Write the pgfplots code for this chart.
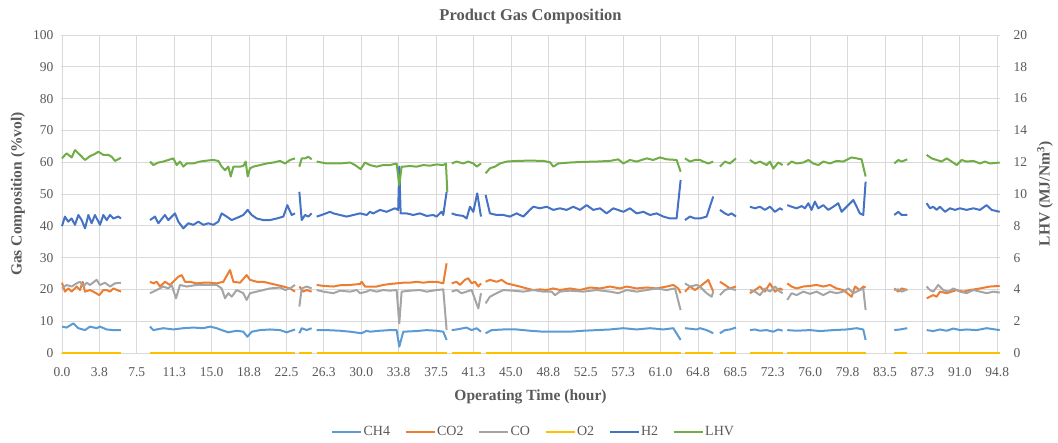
\documentclass[border=0pt]{standalone}
\usepackage{pgfplots}
\pgfplotsset{compat=1.18}
\usepackage{fontspec}
\setmainfont{Liberation Serif}
\definecolor{cCH}{HTML}{5B9BD5}
\definecolor{cCOt}{HTML}{ED7D31}
\definecolor{cCO}{HTML}{A5A5A5}
\definecolor{cOt}{HTML}{FFC000}
\definecolor{cH}{HTML}{4472C4}
\definecolor{cL}{HTML}{70AD47}
\definecolor{tgray}{HTML}{595959}
\definecolor{ggray}{HTML}{D9D9D9}
\newcommand{\labfont}{\bfseries\fontsize{15.5bp}{18bp}\selectfont}
\pgfplotsset{
  common/.style={
    at={(61bp,90bp)}, anchor=south west, scale only axis,
    width=939bp, height=318bp, xmin=-0.1, xmax=95.28,
    unbounded coords=jump, clip=false,
    axis line style={draw=none}, major tick length=0pt, minor tick length=0pt,
    /pgf/number format/assume math mode=true,
    tick label style={font=\fontsize{13.5bp}{16bp}\selectfont, text=tgray},
  },
}
\begin{document}
\begin{tikzpicture}
\path[use as bounding box] (0,0) rectangle (1058bp,443bp);
\begin{axis}[common,
  ymin=0, ymax=100, ytick={0,10,20,30,40,50,60,70,80,90,100},
  xtick={0,3.8,7.6,11.4,15.2,19,22.8,26.6,30.4,34.2,38,41.8,45.6,49.4,53.2,57,60.8,64.6,68.4,72.2,76,79.8,83.6,87.4,91.2,95},
  xticklabels={0.0,3.8,7.5,11.3,15.0,18.8,22.5,26.3,30.0,33.8,37.5,41.3,45.0,48.8,52.5,57.3,61.0,64.8,68.5,72.3,76.0,79.8,83.5,87.3,91.0,94.8},
  xmajorgrids, ymajorgrids,
  grid style={ggray, line width=0.8bp},
  xticklabel style={yshift=-11bp},
  yticklabel style={xshift=-4bp},
  xlabel={Operating Time (hour)},
  ylabel={Gas Composition (\%vol)},
  every axis x label/.style={at={(axis description cs:0.5,-0.138)}, anchor=center, font=\labfont, text=tgray},
  every axis y label/.style={at={(axis description cs:-0.0458,0.5)}, anchor=center, rotate=90, font=\labfont, text=tgray},
  title={Product Gas Composition},
  every axis title/.style={at={(axis description cs:0.5,1.057)}, anchor=center, font=\bfseries\fontsize{16.5bp}{19bp}\selectfont, text=tgray},
  legend style={at={(axis description cs:0.503,-0.248)}, anchor=center, draw=none, fill=none,
    font=\fontsize{14bp}{16bp}\selectfont, text=tgray, legend columns=6,
    nodes={inner sep=1.5bp},
    /tikz/every even column/.append style={column sep=13bp}},
  legend image code/.code={\draw[#1] (0bp,0bp) -- (29bp,0bp);},
  every axis plot/.append style={line width=2bp, line join=round},
]
% CH4
\addplot[cCH] table {
0 8.3
0.47 8.0
1.15 9.3
1.66 7.8
2.34 7.2
2.84 8.3
3.52 7.8
3.86 8.3
4.54 7.4
5.22 7.2
5.99 7.2
7 nan
8.94 8.3
9.28 7.2
10.29 7.8
11.31 7.4
12.33 7.8
13.34 8.0
14.36 7.8
15.04 8.3
15.71 7.8
16.22 7.2
16.90 6.5
17.74 7.0
18.42 6.7
18.83 5.1
19.27 6.7
20.12 7.2
21.13 7.4
22.15 7.2
22.82 6.5
23.67 7.4
23.9 nan
24.11 6.2
24.35 7.8
24.86 7.2
25.36 7.8
25.6 nan
25.87 7.2
26.89 7.2
28.24 7.0
29.26 6.7
30.44 6.2
30.95 7.0
31.28 6.7
32.30 7.0
33.31 7.2
33.99 7.2
34.26 2.0
34.67 6.7
36.02 6.9
37.04 7.2
38.05 7.0
38.73 6.7
39.07 4.1
39.35 nan
39.58 7.2
40.08 7.4
41.10 8.0
41.61 7.2
42.12 7.8
42.56 6.7
42.8 nan
43.03 6.2
43.64 7.2
44.83 7.4
46.18 7.4
47.53 7.0
48.89 6.7
50.24 6.7
51.60 6.7
52.95 7.0
54.31 7.2
55.66 7.4
57.02 7.8
58.37 7.4
59.73 7.8
61.08 7.4
62.10 7.8
62.84 4.1
63.05 nan
63.28 7.8
64.47 7.4
64.80 7.8
65.48 7.2
66.15 6.2
66.5 nan
66.83 6.2
67.34 7.2
67.85 7.4
68.46 8.0
69.2 nan
69.88 7.2
70.39 7.4
70.90 7.0
71.57 7.2
72.25 6.7
72.76 7.4
73.20 7.0
73.45 nan
73.67 7.2
74.62 7.0
75.98 7.2
76.99 6.9
78.35 7.2
79.70 7.4
80.72 7.8
81.39 7.4
81.63 4.1
83 nan
84.54 7.2
85.12 7.4
85.86 7.8
87 nan
87.83 7.2
88.50 6.9
89.18 7.4
89.86 7.0
90.54 7.7
91.21 7.2
91.89 7.4
92.91 7.2
93.92 7.8
95.25 7.2
};
\addlegendentry{CH4}
% CO2
\addplot[cCOt] table {
0 22.1
0.30 19.3
0.64 20.3
0.98 19.3
1.49 20.9
1.83 19.8
2.10 22.4
2.34 19.3
2.84 19.8
3.18 19.3
3.79 18.2
4.20 19.8
4.54 19.8
4.88 19.3
5.22 20.3
5.99 19.3
7 nan
8.94 22.4
9.28 21.9
9.62 22.4
9.96 20.9
10.46 22.4
10.97 21.4
11.82 24.0
12.16 24.5
12.50 22.4
13.00 22.4
13.68 21.9
14.36 22.1
15.04 22.1
15.71 21.9
16.39 22.4
17.07 26.1
17.41 22.4
18.08 22.1
18.76 24.5
19.10 23.0
19.78 22.4
20.45 22.4
21.13 21.9
21.81 21.4
22.49 20.9
23.16 20.3
23.67 19.3
23.9 nan
24.11 20.9
24.52 19.3
24.86 19.8
25.36 19.3
25.6 nan
25.87 21.4
26.55 21.1
27.57 20.9
28.24 21.3
29.26 21.4
30.27 21.7
30.44 22.4
30.78 20.9
31.28 20.9
31.96 20.9
32.63 21.4
33.31 21.7
33.99 21.9
34.67 22.1
35.34 22.1
36.02 22.4
36.70 22.1
37.38 22.4
38.05 22.4
38.73 21.9
39.07 28.2
39.35 nan
39.58 21.9
40.08 22.4
40.42 21.4
40.93 23.0
41.27 23.5
41.61 21.9
41.95 22.4
42.29 20.9
42.56 21.9
42.8 nan
43.03 22.4
43.47 23.0
44.15 22.4
44.66 23.0
45.16 21.9
45.84 21.4
46.52 20.9
47.20 20.3
47.87 19.8
48.55 20.0
49.23 19.8
49.91 20.3
50.58 19.8
51.60 20.3
52.61 19.8
53.63 20.6
54.65 20.3
55.66 20.9
56.68 20.3
57.36 20.9
58.37 20.3
59.39 20.6
60.40 20.3
61.42 20.9
62.10 21.4
62.60 20.3
62.84 18.8
63.05 nan
63.28 19.3
63.79 20.9
64.30 19.8
64.80 20.9
65.65 23.0
66.15 19.3
66.5 nan
66.83 22.4
67.34 21.4
67.85 20.3
68.46 20.9
69.2 nan
69.88 18.8
70.39 19.8
70.90 20.9
71.40 19.3
71.91 21.9
72.42 19.3
72.93 20.3
73.20 19.8
73.45 nan
73.67 21.9
74.11 20.9
74.62 20.3
75.30 20.9
75.98 21.1
76.65 21.4
77.33 20.9
78.01 21.4
78.68 20.3
79.36 19.8
80.21 17.7
80.55 20.9
81.05 19.8
81.39 20.9
81.63 20.6
83 nan
84.54 20.3
84.95 19.3
85.29 20.3
85.86 19.8
87 nan
87.83 17.2
88.50 18.2
88.84 17.7
89.18 19.3
89.86 18.8
90.37 19.3
90.88 19.8
91.55 19.3
92.23 19.8
93.25 20.3
94.26 20.9
95.25 21.1
};
\addlegendentry{CO2}
% CO
\addplot[cCO] table {
0 20.3
0.47 21.4
0.98 20.9
1.49 21.9
1.83 22.4
2.17 20.9
2.51 22.1
2.84 21.4
3.52 23.0
3.86 21.4
4.37 22.1
4.88 20.9
5.38 21.9
5.99 22.1
7 nan
8.94 18.8
9.62 19.8
10.29 20.9
10.80 20.3
11.14 21.4
11.58 17.2
11.99 21.4
12.67 20.9
13.68 21.4
14.70 21.4
15.71 21.4
16.22 20.3
16.56 17.2
16.90 18.8
17.24 17.7
17.74 19.8
18.42 18.8
18.76 16.7
19.10 18.8
19.78 19.3
20.45 19.8
21.13 20.3
22.15 20.6
22.66 19.8
23.16 20.3
23.67 21.4
23.9 nan
24.11 14.6
24.35 20.3
24.86 20.9
25.36 20.3
25.6 nan
25.87 19.8
26.55 19.3
27.57 18.8
28.24 19.6
29.26 19.3
29.94 19.8
30.27 18.8
30.95 19.3
31.28 19.8
31.96 19.3
32.63 19.8
33.31 19.6
33.99 19.8
34.26 9.3
34.50 19.3
35.34 19.6
36.36 19.8
37.04 19.3
38.05 19.8
38.73 20.0
39.07 7.2
39.35 nan
39.58 19.3
40.08 19.8
40.59 18.8
41.10 19.3
41.61 19.8
42.29 14.0
42.56 18.8
42.8 nan
43.03 15.6
43.47 17.7
44.15 18.8
44.83 19.8
45.84 19.6
46.86 19.3
47.87 19.8
48.89 19.3
49.74 19.3
50.07 18.2
50.58 19.3
51.60 19.6
52.95 19.3
54.31 19.8
55.66 19.3
56.51 18.8
57.36 19.8
58.37 19.3
59.39 19.8
60.40 20.3
61.42 19.8
62.27 20.3
62.84 13.5
63.05 nan
63.28 21.9
63.79 20.9
64.47 21.4
64.80 20.9
65.48 18.8
65.99 17.7
66.15 19.3
66.5 nan
66.83 18.2
67.34 19.8
67.85 20.3
68.46 19.8
69.2 nan
69.88 19.8
70.39 19.3
70.90 18.2
71.40 20.3
71.91 19.3
72.42 20.9
72.93 19.3
73.20 18.8
73.45 nan
73.67 16.7
74.11 18.8
74.62 18.2
75.30 19.3
75.98 18.6
76.65 19.3
77.33 18.2
78.01 19.3
78.68 18.8
79.36 19.3
79.87 20.3
80.38 18.8
81.05 19.8
81.39 20.3
81.63 13.5
83 nan
84.54 19.8
84.95 20.0
85.29 19.3
85.86 20.0
87 nan
87.83 20.9
88.17 19.8
88.50 19.3
89.01 21.4
89.52 19.8
90.03 19.3
90.54 20.3
91.21 19.3
91.89 18.8
92.57 19.8
93.25 19.3
93.92 18.8
94.60 19.3
95.25 19.0
};
\addlegendentry{CO}
% O2
\addplot[cOt] table {
0 0
5.99 0
7 nan
8.94 0
23.67 0
23.9 nan
24.11 0
25.36 0
25.6 nan
25.87 0
39.07 0
39.35 nan
39.58 0
42.56 0
42.8 nan
43.03 0
62.84 0
63.05 nan
63.28 0
66.15 0
66.5 nan
66.83 0
68.46 0
69.2 nan
69.88 0
73.20 0
73.45 nan
73.67 0
81.63 0
83 nan
84.54 0
85.86 0
87 nan
87.83 0
95.25 0
};
\addlegendentry{O2}
% H2
\addplot[cH] table {
0 39.9
0.30 42.9
0.64 41.3
0.98 42.3
1.32 40.3
1.66 43.4
2.00 41.8
2.34 39.2
2.68 43.4
3.01 40.8
3.35 43.4
3.86 40.3
4.20 43.4
4.54 41.8
4.88 43.4
5.22 42.3
5.72 42.9
5.99 42.3
7 nan
8.94 41.8
9.45 42.9
9.79 40.8
10.46 43.4
10.80 41.8
11.48 43.9
11.82 41.3
12.33 39.2
12.83 40.8
13.34 40.3
13.85 41.3
14.36 40.3
14.87 40.8
15.37 40.3
15.88 41.3
16.22 43.9
16.73 42.9
17.24 41.8
18.08 42.9
18.42 43.4
18.86 45.0
19.27 43.4
19.78 42.3
20.45 41.8
21.13 41.8
21.81 42.3
22.49 42.9
22.89 46.5
23.33 43.4
23.67 43.9
23.9 nan
24.11 50.7
24.35 41.8
24.69 43.4
25.03 42.9
25.36 43.9
25.6 nan
25.87 42.9
26.38 43.4
27.23 44.4
27.57 43.9
28.24 43.4
28.92 42.9
29.60 43.4
30.27 43.9
30.95 43.4
31.28 44.4
31.62 43.9
32.30 45.0
32.97 44.4
33.82 45.5
34.15 45.0
34.26 58.6
34.40 43.9
35.00 43.9
35.68 43.4
36.36 43.9
37.04 43.1
37.71 43.4
38.05 42.9
38.56 44.4
38.73 43.4
39.07 50.7
39.35 nan
39.58 43.9
40.08 43.4
40.76 43.1
41.10 42.3
41.44 46.0
41.78 44.4
42.18 50.2
42.56 42.9
42.8 nan
43.03 49.7
43.47 43.9
44.15 43.4
44.83 43.4
45.50 42.9
46.18 43.9
46.86 42.9
47.53 45.0
47.87 46.0
48.55 45.5
49.23 46.0
49.91 45.0
50.58 45.5
51.26 45.0
51.94 46.0
52.61 45.0
53.29 46.5
53.97 45.0
54.65 45.5
55.32 43.9
56.00 45.5
57.02 44.4
57.69 45.5
58.37 43.9
59.05 44.4
59.73 43.4
60.40 43.9
61.08 42.9
61.76 42.3
62.43 42.3
62.84 54.4
63.05 nan
63.28 41.8
63.79 42.9
64.30 42.3
64.80 42.3
65.48 42.9
66.15 49.2
66.5 nan
66.83 45.0
67.34 43.9
67.68 43.4
68.02 43.9
68.46 42.9
69.2 nan
69.88 46.0
70.39 45.5
70.90 46.0
71.40 45.0
71.91 46.0
72.42 44.4
72.93 45.5
73.20 45.0
73.45 nan
73.67 46.5
74.11 46.0
74.62 45.5
75.13 46.2
75.47 45.5
75.81 47.1
76.14 45.0
76.48 47.6
76.82 45.5
77.33 46.5
77.84 45.0
78.35 46.0
78.85 47.1
79.19 44.4
79.70 46.0
80.38 48.1
81.05 43.9
81.39 43.4
81.63 53.9
83 nan
84.54 43.4
84.95 44.4
85.29 43.4
85.86 43.4
87 nan
87.83 47.1
88.17 45.5
88.50 46.0
88.84 45.0
89.18 46.0
89.69 44.4
90.20 45.5
90.71 45.0
91.21 45.5
91.89 45.0
92.57 45.5
93.25 45.0
93.92 46.5
94.43 45.0
95.25 44.4
};
\addlegendentry{H2}
\addlegendimage{cL, line width=2bp}
\addlegendentry{LHV}
\end{axis}
\begin{axis}[common,
  ymin=0, ymax=20, ytick={0,2,4,6,8,10,12,14,16,18,20},
  axis x line=none, axis y line*=right,
  yticklabel style={xshift=10bp},
  ylabel={LHV (MJ/Nm\textsuperscript{3})},
  every axis y label/.style={at={(axis description cs:1.048,0.5)}, anchor=center, rotate=90, font=\labfont, text=tgray},
  every axis plot/.append style={line width=2bp, line join=round},
]
\addplot[cL] table {
0 12.24
0.47 12.56
0.98 12.30
1.32 12.76
1.83 12.46
2.34 12.14
2.84 12.38
3.35 12.52
3.69 12.66
4.20 12.46
4.71 12.46
5.05 12.34
5.38 12.08
5.99 12.28
7 nan
8.94 12.04
9.28 11.82
9.79 11.98
10.29 12.04
10.80 12.14
11.31 12.24
11.65 11.82
11.99 12.04
12.33 11.72
12.67 11.92
13.34 11.92
14.02 12.04
14.70 12.10
15.37 12.14
15.88 12.08
16.22 11.72
16.56 11.50
16.90 11.72
17.14 11.10
17.41 11.72
18.08 11.72
18.42 11.76
18.66 12.04
18.86 11.10
19.10 11.62
19.44 11.72
20.12 11.82
20.79 11.92
21.47 11.98
22.15 12.08
22.66 11.92
23.16 12.14
23.67 12.24
23.9 nan
24.11 11.72
24.35 12.24
24.69 12.24
25.03 12.34
25.36 12.18
25.6 nan
25.87 12.04
26.89 11.92
28.24 11.92
29.26 11.98
29.77 11.82
30.34 11.56
30.78 11.98
31.28 11.82
31.96 11.72
32.63 11.82
33.31 11.82
33.99 11.92
34.26 10.56
34.50 11.72
34.67 11.72
35.34 11.76
36.02 11.72
36.70 11.82
37.38 11.78
38.05 11.86
38.73 11.82
39.00 11.92
39.14 10.14
39.35 nan
39.58 11.92
40.08 12.04
40.76 11.92
41.27 12.04
41.78 11.92
42.12 11.72
42.56 11.92
42.8 nan
43.03 11.30
43.47 11.62
43.98 11.72
44.49 11.92
45.16 12.04
46.18 12.08
47.53 12.10
48.89 12.08
49.57 12.00
49.91 11.72
50.41 11.92
51.60 11.98
52.95 12.02
54.31 12.04
55.66 12.08
56.51 12.18
57.02 11.92
57.69 12.14
58.37 12.04
59.39 12.24
60.06 12.14
60.74 12.30
61.42 12.18
62.43 12.14
62.84 11.40
63.05 nan
63.28 12.24
63.79 12.04
64.30 12.14
64.80 12.14
65.14 12.04
65.65 11.92
66.15 12.04
66.5 nan
66.83 11.72
67.34 12.04
67.85 11.92
68.46 12.24
69.2 nan
69.88 12.14
70.39 11.92
70.90 12.04
71.57 11.82
71.91 12.04
72.25 11.60
72.76 11.98
73.20 11.82
73.45 nan
73.67 11.82
74.11 12.04
74.62 11.92
75.30 11.98
75.81 12.14
76.31 11.92
76.82 11.82
77.33 12.04
78.01 11.92
78.68 12.08
79.36 12.04
80.21 12.30
80.72 12.24
81.22 12.18
81.63 11.10
83 nan
84.54 11.92
84.95 12.14
85.29 12.04
85.86 12.18
87 nan
87.83 12.46
88.34 12.24
88.84 12.14
89.35 12.04
89.86 12.24
90.37 12.04
90.88 11.82
91.38 12.14
91.89 12.04
92.57 12.08
93.25 11.92
93.75 12.04
94.26 11.92
95.25 11.98
};
\end{axis}
\end{tikzpicture}
\end{document}
